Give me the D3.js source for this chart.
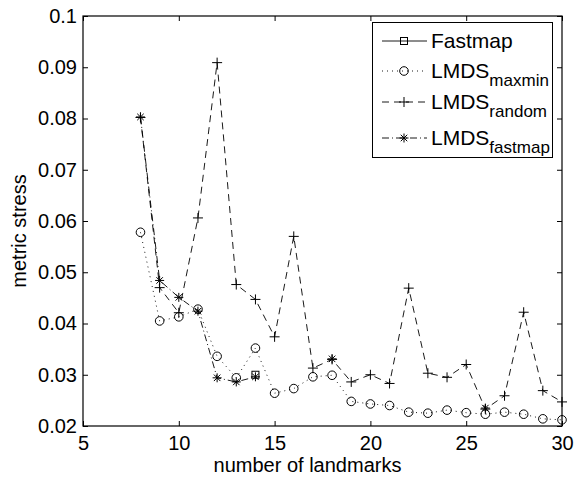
<!DOCTYPE html>
<html>
<head>
<meta charset="utf-8">
<script src="https://cdn.jsdelivr.net/npm/d3@7"></script>
<style>
  body { margin: 0; background: #fff; }
  text { font-family: Arial, "Liberation Sans", Helvetica, sans-serif; }
</style>
</head>
<body>
<div id="chart"></div>
<script>
const landmarks = [8, 9, 10, 11, 12, 13, 14, 15, 16, 17, 18, 19, 20, 21, 22, 23, 24, 25, 26, 27, 28, 29, 30];

const maxmin = [0.0578, 0.0405, 0.0413, 0.0428, 0.0336, 0.0294, 0.0352, 0.0264, 0.0273, 0.0296, 0.0299, 0.0248,
                0.0243, 0.0240, 0.0227, 0.0225, 0.0231, 0.0226, 0.0223, 0.0227, 0.0223, 0.0214, 0.0212];
const random = [0.0802, 0.0470, 0.0421, 0.0606, 0.0909, 0.0476, 0.0447, 0.0374, 0.0570, 0.0313, 0.0330, 0.0286,
                0.0300, 0.0283, 0.0469, 0.0303, 0.0295, 0.0320, 0.0233, 0.0259, 0.0422, 0.0269, 0.0247];
// only where the markers can be seen in the figure
const lmdsFastmap = [0.0803, 0.0484, 0.0451, 0.0424, 0.0294, 0.0286, 0.0296, null, null, null, 0.0331, null,
                     null, null, null, null, null, null, 0.0235, null, null, null, null];
const fastmap = [null, null, null, null, null, null, 0.0300, null, null, null, null, null,
                 null, null, null, null, null, null, null, null, null, null, null];

const xTicks = [5, 10, 15, 20, 25, 30];
const yTicks = [0.02, 0.03, 0.04, 0.05, 0.06, 0.07, 0.08, 0.09, 0.1];

const width = 574, height = 477;
const margin = {top: 16, right: 12, bottom: 51, left: 83};
const fontSize = 20;

const svg = d3.select("#chart").append("svg")
    .attr("width", width)
    .attr("height", height);

const x = d3.scaleLinear().domain([5, 30]).range([margin.left, width - margin.right]);
const y = d3.scaleLinear().domain([0.02, 0.1]).range([height - margin.bottom, margin.top]);

// axes, ticks inside on all four sides
const tickLen = 5;
svg.append("g")
    .attr("transform", `translate(0,${y(0.02)})`)
    .call(d3.axisBottom(x).tickValues(xTicks).tickSizeInner(-tickLen).tickSizeOuter(0).tickPadding(10))
    .call(g => g.selectAll("text").attr("font-size", fontSize).attr("fill", "#000"));
svg.append("g")
    .attr("transform", `translate(0,${y(0.1)})`)
    .call(d3.axisTop(x).tickValues(xTicks).tickSizeInner(-tickLen).tickSizeOuter(0).tickFormat(""));
svg.append("g")
    .attr("transform", `translate(${x(5)},0)`)
    .call(d3.axisLeft(y).tickValues(yTicks).tickSizeInner(-tickLen).tickSizeOuter(0).tickPadding(6)
        .tickFormat(d => String(+d.toFixed(2))))
    .call(g => g.selectAll("text").attr("font-size", fontSize).attr("fill", "#000"));
svg.append("g")
    .attr("transform", `translate(${x(30)},0)`)
    .call(d3.axisRight(y).tickValues(yTicks).tickSizeInner(-tickLen).tickSizeOuter(0).tickFormat(""));

svg.selectAll(".domain").remove();
svg.selectAll(".tick line").attr("stroke", "#000");

svg.append("rect")
    .attr("x", x(5)).attr("y", y(0.1))
    .attr("width", x(30) - x(5)).attr("height", y(0.02) - y(0.1))
    .attr("fill", "none").attr("stroke", "#000").attr("stroke-width", 1.2);

// labels
svg.append("text")
    .attr("x", (x(5) + x(30)) / 2 - 15).attr("y", height - 5)
    .attr("text-anchor", "middle").attr("font-size", fontSize)
    .text("number of landmarks");
svg.append("text")
    .attr("transform", `translate(26,${(y(0.02) + y(0.1)) / 2 + 10}) rotate(-90)`)
    .attr("text-anchor", "middle").attr("font-size", fontSize)
    .text("metric stress");

// series
const series = [
  {name: "Fastmap", sub: "", values: fastmap, dash: null, marker: "square"},
  {name: "LMDS", sub: "maxmin", values: maxmin, dash: "1,4", marker: "circle"},
  {name: "LMDS", sub: "random", values: random, dash: "7,5", marker: "plus"},
  {name: "LMDS", sub: "fastmap", values: lmdsFastmap, dash: "7,3,1,3", marker: "star"}
];

function drawMarker(g, type, cx, cy) {
  if (type === "circle") {
    g.append("circle").attr("cx", cx).attr("cy", cy).attr("r", 4.3)
      .attr("fill", "none").attr("stroke", "#000").attr("stroke-width", 1);
  } else if (type === "square") {
    g.append("rect").attr("x", cx - 3.5).attr("y", cy - 3.5).attr("width", 7).attr("height", 7)
      .attr("fill", "none").attr("stroke", "#000").attr("stroke-width", 1);
  } else if (type === "plus") {
    g.append("path").attr("d", `M${cx - 5},${cy}H${cx + 5}M${cx},${cy - 5}V${cy + 5}`)
      .attr("stroke", "#000").attr("stroke-width", 1);
  } else if (type === "star") {
    const r = 4.5, d = r * 0.72;
    g.append("path")
      .attr("d", `M${cx - r},${cy}H${cx + r}M${cx},${cy - r}V${cy + r}` +
                 `M${cx - d},${cy - d}L${cx + d},${cy + d}M${cx - d},${cy + d}L${cx + d},${cy - d}`)
      .attr("stroke", "#000").attr("stroke-width", 1);
  }
}

const line = d3.line()
    .defined(d => d.v !== null)
    .x(d => x(d.k))
    .y(d => y(d.v));

series.forEach(s => {
  const pts = landmarks.map((k, i) => ({k: k, v: s.values[i]}));
  const g = svg.append("g");
  g.append("path")
    .datum(pts)
    .attr("d", line)
    .attr("fill", "none")
    .attr("stroke", "#000")
    .attr("stroke-width", 0.9)
    .attr("stroke-dasharray", s.dash);
  pts.filter(p => p.v !== null).forEach(p => drawMarker(g, s.marker, x(p.k), y(p.v)));
});

// legend
const lg = svg.append("g");
lg.append("rect")
    .attr("x", 372.5).attr("y", 22.5).attr("width", 180).attr("height", 135)
    .attr("fill", "#fff").attr("stroke", "#000").attr("stroke-width", 1);
const rowY = [41, 71, 102, 138];
series.forEach((s, i) => {
  const yy = rowY[i];
  lg.append("line")
    .attr("x1", 382).attr("x2", 427).attr("y1", yy).attr("y2", yy)
    .attr("stroke", "#000").attr("stroke-width", 0.9)
    .attr("stroke-dasharray", s.dash);
  drawMarker(lg, s.marker, 404, yy);
  const t = lg.append("text")
    .attr("x", 431).attr("y", yy + 7)
    .attr("font-size", fontSize + 1);
  t.append("tspan").text(s.name);
  if (s.sub) {
    t.append("tspan").attr("dy", 8).attr("font-size", fontSize - 3).text(s.sub);
  }
});
</script>
</body>
</html>
